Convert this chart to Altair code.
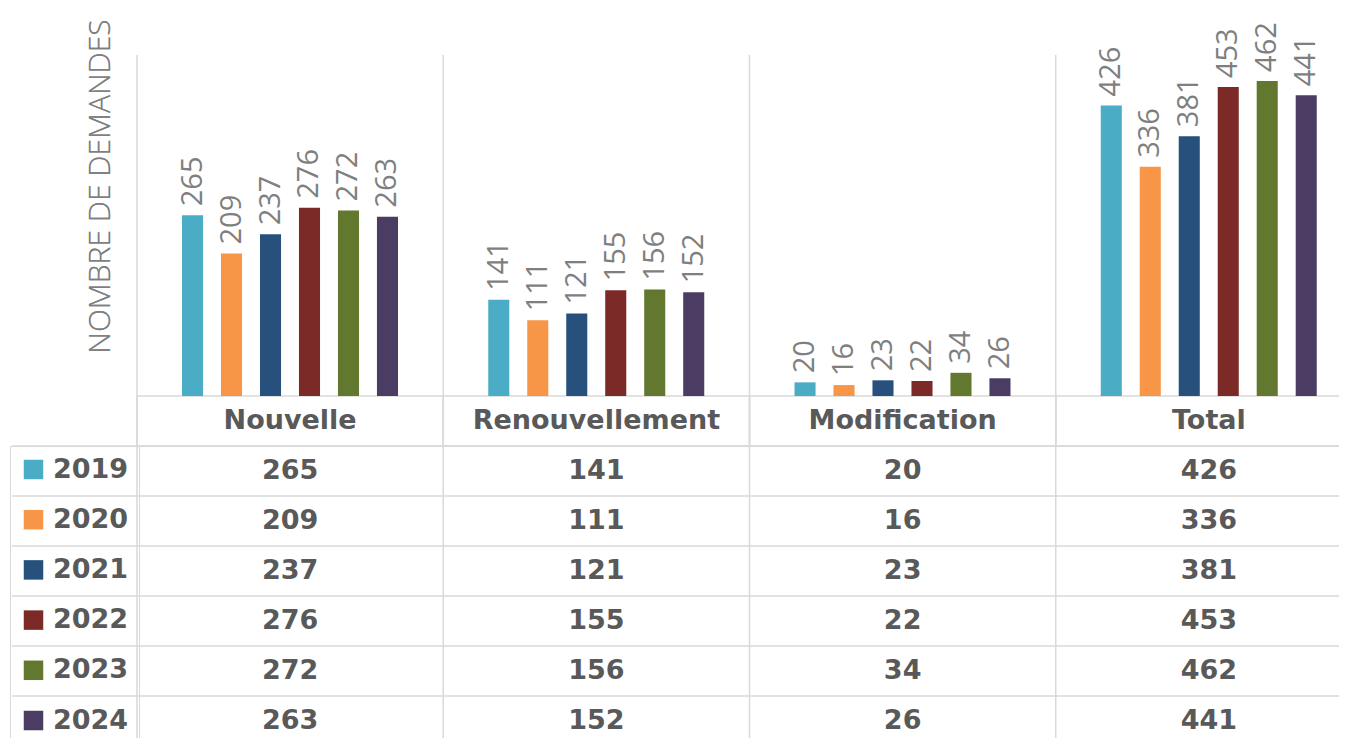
import altair as alt
import pandas as pd

categories = ["Nouvelle", "Renouvellement", "Modification", "Total"]
years = ["2019", "2020", "2021", "2022", "2023", "2024"]
nouvelle = [265, 209, 237, 276, 272, 263]
renouvellement = [141, 111, 121, 155, 156, 152]
modification = [20, 16, 23, 22, 34, 26]
total = [426, 336, 381, 453, 462, 441]
colors = ["#4bacc6", "#f79646", "#27507c", "#7b2a28", "#62782f", "#4b3c64"]
y_title = "NOMBRE DE DEMANDES"
header_key = "Catégorie"
rows = [header_key] + years

series = dict(zip(categories, [nouvelle, renouvellement, modification, total]))
bars_df = pd.DataFrame(
    [{"cat": c, "year": y, "value": v} for c in categories for y, v in zip(years, series[c])]
)
table_df = pd.DataFrame(
    [{"cat": c, "row": header_key, "text": c} for c in categories]
    + [{"cat": c, "row": y, "text": str(v)} for c in categories for y, v in zip(years, series[c])]
)
header_df = pd.DataFrame({"cat": categories, "row": [header_key] * len(categories)})
col_df = pd.DataFrame({"cat": categories})
row_df = pd.DataFrame({"row": years})

GRID = "#d9d9d9"
LABEL_GRAY = "#7f7f7f"
TABLE_GRAY = "#595959"

X_SCALE = dict(domain=categories, range=[125, 1350], paddingInner=0, paddingOuter=0)
ROW_SCALE = dict(domain=rows, range=[341, 691], paddingInner=0, paddingOuter=0)


def x_enc(**kw):
    return alt.X("cat:N", sort=categories, scale=alt.Scale(**X_SCALE), axis=None, **kw)


def row_enc(**kw):
    return alt.Y("row:N", sort=rows, scale=alt.Scale(**ROW_SCALE), axis=None, **kw)


def xoff_enc():
    return alt.XOffset("year:N", scale=alt.Scale(domain=years, range=[45, 261],
                                                 paddingInner=0.46, paddingOuter=0))


def y_val():
    return alt.Y(
        "value:Q",
        scale=alt.Scale(domain=[0, 500], range=[341, 0], nice=False),
        axis=alt.Axis(title=y_title, orient="left", labels=False, ticks=False, domain=False, grid=False,
                      titleX=88, titleY=131, titleAngle=270, titleAlign="center", titleBaseline="middle",
                      titleFont="Open Sans", titleFontSize=30, titleFontWeight=300, titleColor=LABEL_GRAY),
    )


# column separators spanning the full height
col_rules = alt.Chart(col_df).mark_rule(color=GRID, strokeWidth=1.5).encode(
    x=x_enc(bandPosition=0)
)

# row separators of the data table (through the legend column too)
row_rules = alt.Chart(row_df).mark_rule(color=GRID, strokeWidth=1.5).encode(
    y=row_enc(bandPosition=0)
)

# header cells outline
header_cells = alt.Chart(header_df).mark_rect(fillOpacity=0, stroke=GRID, strokeWidth=1.5).encode(
    x=x_enc(), y=row_enc()
)

base = alt.Chart(bars_df)

bars = base.mark_bar().encode(
    x=x_enc(),
    xOffset=xoff_enc(),
    y=y_val(),
    color=alt.Color(
        "year:N",
        scale=alt.Scale(domain=years, range=colors),
        legend=alt.Legend(title=None, orient="none", legendX=-2, legendY=391, symbolType="square",
                          symbolSize=380, symbolStrokeWidth=0, symbolOpacity=1,
                          labelFont="DejaVu Sans", labelFontWeight="bold", labelFontSize=27,
                          labelColor=TABLE_GRAY, labelOffset=6, rowPadding=22.2, padding=10,
                          strokeColor=GRID),
    ),
)

labels = base.mark_text(angle=270, align="left", baseline="middle", dx=9,
                        font="Open Sans", fontSize=29, color=LABEL_GRAY).encode(
    x=x_enc(),
    xOffset=xoff_enc(),
    y=y_val(),
    text="value:Q",
)

table = alt.Chart(table_df).mark_text(font="DejaVu Sans", fontWeight="bold", fontSize=27,
                                      color=TABLE_GRAY, baseline="middle", align="center").encode(
    x=x_enc(),
    y=row_enc(),
    text="text:N",
)

chart = (
    alt.layer(col_rules, row_rules, header_cells, bars, labels, table)
    .resolve_scale(y="independent")
    .resolve_axis(y="independent")
    .properties(
        width=1327,
        height=683,
        autosize=alt.AutoSizeParams(type="none"),
        padding={"left": 4, "top": 47, "right": 0, "bottom": 0},
        background="white",
    )
    .configure_view(strokeWidth=0)
)

chart.save("out.html", embed_options={"renderer": "svg", "actions": False})
